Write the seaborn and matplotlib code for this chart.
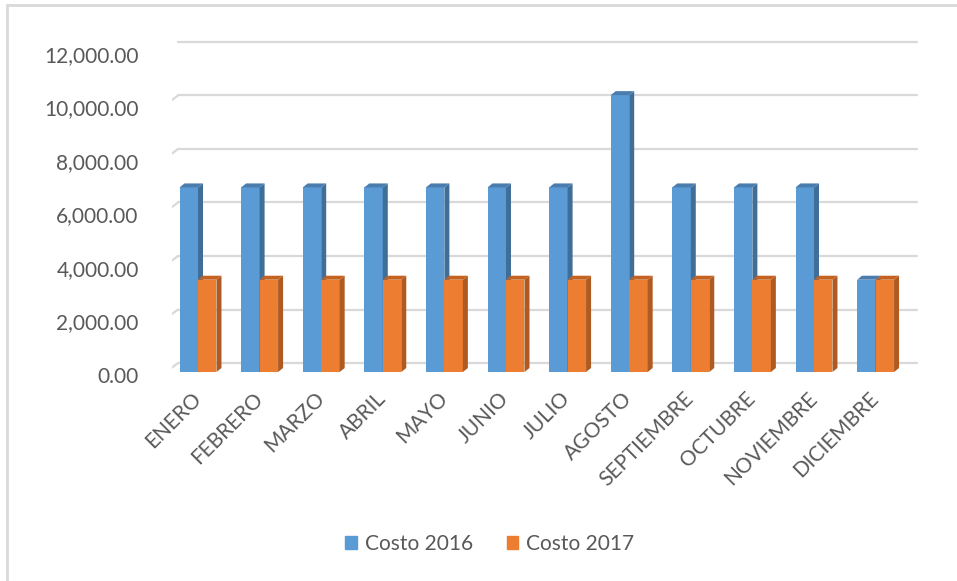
import pandas as pd
import matplotlib
matplotlib.use("Agg")
import matplotlib.pyplot as plt
import seaborn as sns
from matplotlib.patches import Polygon, Patch
from matplotlib.lines import Line2D
from matplotlib.transforms import offset_copy, IdentityTransform, ScaledTranslation

# datos
meses = ["ENERO", "FEBRERO", "MARZO", "ABRIL", "MAYO", "JUNIO", "JULIO",
         "AGOSTO", "SEPTIEMBRE", "OCTUBRE", "NOVIEMBRE", "DICIEMBRE"]
costo_2016 = [6900, 6900, 6900, 6900, 6900, 6900, 6900, 10350, 6900, 6900, 6900, 3450]
costo_2017 = [3450, 3450, 3450, 3450, 3450, 3450, 3450, 3450, 3450, 3450, 3450, 3450]
series = ["Costo 2016", "Costo 2017"]
yticks = [0, 2000, 4000, 6000, 8000, 10000, 12000]

df = pd.DataFrame({
    "mes": meses * 2,
    "serie": [series[0]] * 12 + [series[1]] * 12,
    "costo": costo_2016 + costo_2017,
})

sns.set_style("white")
plt.rcParams['font.family'] = ['Lato', 'DejaVu Sans']

colores = {"Costo 2016": "#5B9BD5", "Costo 2017": "#ED7D31"}
lado = {"Costo 2016": "#3F6E99", "Costo 2017": "#AE5A21"}
tapa = {"Costo 2016": "#4A7DAE", "Costo 2017": "#C6621F"}
gris = "#595959"
grid_c = "#D9D9D9"

W, H = 957, 581
fig = plt.figure(figsize=(W / 100, H / 100), dpi=100)
ax = fig.add_axes([172 / W, (H - 372) / H, (911 - 172) / W, (372 - 51) / H])

sns.barplot(data=df, x="mes", y="costo", hue="serie", palette=colores,
            width=0.6, saturation=1, legend=False, ax=ax, zorder=2,
            linewidth=0, edgecolor="none")

x0, x1 = -0.422, 11.575
ax.set_xlim(x0, x1)
ax.set_ylim(0, 12000)
sns.despine(ax=ax, left=True, bottom=True)
ax.set_xlabel("")
ax.set_ylabel("")

# efecto 3D: cara lateral y tapa de cada barra
ax_w = (911 - 172)
ax_h = (372 - 51)
dx = 5 / (ax_w / (x1 - x0))
dy = 4 / (ax_h / 12000)
for i, cont in enumerate(ax.containers):
    s = series[i]
    z = 2 + i
    for bar in cont:
        bar.set_zorder(z)
        xl = bar.get_x()
        xr = xl + bar.get_width()
        top = bar.get_height()
        ax.add_patch(Polygon([(xr, 0), (xr, top), (xr + dx, top + dy), (xr + dx, dy)],
                             closed=True, color=lado[s], zorder=z + 0.1, lw=0))
        ax.add_patch(Polygon([(xl, top), (xr, top), (xr + dx, top + dy), (xl + dx, top + dy)],
                             closed=True, color=tapa[s], zorder=z + 0.2, lw=0))

# lineas de division en la pared del fondo
back = offset_copy(ax.transData, fig=fig, x=6, y=9, units='dots')
fig.canvas.draw()
for v in yticks:
    ax.plot([x0, x1], [v, v], color=grid_c, lw=1.6, transform=back, zorder=0, clip_on=False)
    p = ax.transData.transform((x0, v))
    ax.add_line(Line2D([p[0] - 10, p[0] + 6], [p[1] - 3, p[1] + 9], color=grid_c, lw=1.6,
                       transform=IdentityTransform(), zorder=0))

ax.set_yticks(yticks)
ax.set_yticklabels([f"{v:,.2f}" for v in yticks])
ax.tick_params(axis='y', length=0, pad=24, labelsize=15, labelcolor=gris)
ax.tick_params(axis='x', length=0, pad=17, labelsize=15, labelcolor=gris)
ax.set_xticks(range(len(meses)))
ax.set_xticklabels(meses, rotation=45, ha='right', va='center', rotation_mode='anchor')
bajar = ScaledTranslation(0, -3 / 100, fig.dpi_scale_trans)
for lab in ax.get_yticklabels():
    lab.set_transform(lab.get_transform() + bajar)

handles = [Patch(color=colores[s]) for s in series]
fig.legend(handles, series, loc='center', bbox_to_anchor=(490 / W, 1 - 544 / H), ncol=2,
           frameon=False, handlelength=0.55, handleheight=0.55, handletextpad=0.4,
           columnspacing=1.6, prop={'size': 15}, labelcolor=gris)

# borde del area del grafico
fig.add_artist(Line2D([7 / W, 7 / W], [0, 1 - 5 / H], color=grid_c, lw=2, transform=fig.transFigure))
fig.add_artist(Line2D([7 / W, 1], [1 - 5 / H, 1 - 5 / H], color=grid_c, lw=2, transform=fig.transFigure))

fig.savefig("out.png", dpi=100)
